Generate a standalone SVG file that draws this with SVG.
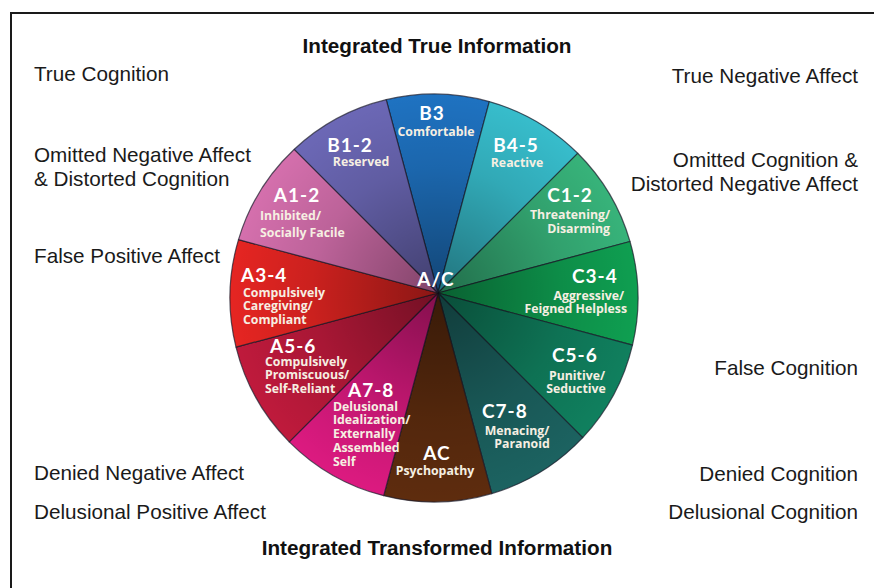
<svg xmlns="http://www.w3.org/2000/svg" width="874" height="588" viewBox="0 0 874 588">
<style>
.lbl{font-family:"Liberation Sans",Arial,sans-serif;font-size:20.7px;fill:#1a1a1a}
.hd{font-family:"Liberation Sans",Arial,sans-serif;font-size:20.7px;font-weight:bold;fill:#111}
.r{text-anchor:end}
.m{text-anchor:middle}
.sl{stroke:#1a1a2a;stroke-opacity:0.7;stroke-width:1.2;stroke-linejoin:round}
.code{font-family:Lato,"Open Sans",sans-serif;font-weight:bold;font-size:19px;fill:#fff;letter-spacing:1px}
.sub{font-family:"Open Sans",Lato,sans-serif;font-weight:bold;font-size:12.3px;fill:#f6efe2}
</style>
<defs>
<radialGradient id="shade" gradientUnits="userSpaceOnUse" cx="438" cy="293" r="210">
<stop offset="0" stop-color="#000" stop-opacity="0.4"/>
<stop offset="0.6" stop-color="#000" stop-opacity="0.12"/>
<stop offset="1" stop-color="#000" stop-opacity="0"/>
</radialGradient>
</defs>
<rect width="874" height="588" fill="#fff"/>
<path d="M11 588 V13 H874" fill="none" stroke="#1a1a1a" stroke-width="2"/>

<text class="hd m" x="437" y="53">Integrated True Information</text>
<text class="lbl" x="34" y="81">True Cognition</text>
<text class="lbl" x="34" y="162">Omitted Negative Affect</text>
<text class="lbl" x="34" y="186">&amp; Distorted Cognition</text>
<text class="lbl" x="34" y="263">False Positive Affect</text>
<text class="lbl r" x="858" y="83">True Negative Affect</text>
<text class="lbl r" x="858" y="167">Omitted Cognition &amp;</text>
<text class="lbl r" x="858" y="191">Distorted Negative Affect</text>
<text class="lbl r" x="858" y="375">False Cognition</text>
<text class="lbl" x="34" y="480">Denied Negative Affect</text>
<text class="lbl" x="34" y="519">Delusional Positive Affect</text>
<text class="lbl r" x="858" y="481">Denied Cognition</text>
<text class="lbl r" x="858" y="519">Delusional Cognition</text>
<text class="hd m" x="437" y="555">Integrated Transformed Information</text>

<g id="wheel">
<g id="B3"><path class="sl" fill="#1f74c4" d="M438 293 L386.2 99.7 A204 204 0 0 1 489.3 101.6 Z"/></g>
<g id="B4-5"><path class="sl" fill="#38c0cf" d="M438 293 L489.3 101.6 A204 204 0 0 1 577.7 153.3 Z"/></g>
<g id="C1-2"><path class="sl" fill="#38b67c" d="M438 293 L577.7 153.3 A204 204 0 0 1 630 241.5 Z"/></g>
<g id="C3-4"><path class="sl" fill="#0fa152" d="M438 293 L630 241.5 A204 204 0 0 1 632.5 345.1 Z"/></g>
<g id="C5-6"><path class="sl" fill="#10815f" d="M438 293 L632.5 345.1 A204 204 0 0 1 582.7 437.7 Z"/></g>
<g id="C7-8"><path class="sl" fill="#1c6361" d="M438 293 L582.7 437.7 A204 204 0 0 1 491.8 493.6 Z"/></g>
<g id="AC"><path class="sl" fill="#5e2c0e" d="M438 293 L491.8 493.6 A204 204 0 0 1 383.7 495.7 Z"/></g>
<g id="A7-8"><path class="sl" fill="#dc1a80" d="M438 293 L383.7 495.7 A204 204 0 0 1 289.2 441.8 Z"/></g>
<g id="A5-6"><path class="sl" fill="#bf1a3c" d="M438 293 L289.2 441.8 A204 204 0 0 1 236 347.1 Z"/></g>
<g id="A3-4"><path class="sl" fill="#e62522" d="M438 293 L236 347.1 A204 204 0 0 1 238.5 239.6 Z"/></g>
<g id="A1-2"><path class="sl" fill="#d670ae" d="M438 293 L238.5 239.6 A204 204 0 0 1 294.3 149.3 Z"/></g>
<g id="B1-2"><path class="sl" fill="#6d69b8" d="M438 293 L294.3 149.3 A204 204 0 0 1 386.2 99.7 Z"/></g>
<circle cx="434" cy="298" r="204" fill="url(#shade)"/>
</g>

<g id="labels">
<text class="code m" x="432" y="120">B3</text>
<text class="sub m" x="436" y="136">Comfortable</text>
<text class="code m" x="350" y="152">B1-2</text>
<text class="sub m" x="361" y="166">Reserved</text>
<text class="code m" x="516" y="152">B4-5</text>
<text class="sub m" x="517" y="167" fill="#d6f2f2">Reactive</text>
<text class="code m" x="297" y="202">A1-2</text>
<text class="sub" x="260" y="220">Inhibited/</text>
<text class="sub" x="260" y="237">Socially Facile</text>
<text class="code m" x="570" y="202">C1-2</text>
<text class="sub r" x="610" y="219">Threatening/</text>
<text class="sub r" x="610" y="233">Disarming</text>
<text class="code" x="241" y="282">A3-4</text>
<text class="sub" x="243" y="297">Compulsively</text>
<text class="sub" x="243" y="310">Caregiving/</text>
<text class="sub" x="243" y="324">Compliant</text>
<text class="code" x="572" y="283">C3-4</text>
<text class="sub r" x="624" y="300">Aggressive/</text>
<text class="sub r" x="627" y="313">Feigned Helpless</text>
<text class="code m" x="436" y="286" font-size="20">A/C</text>
<text class="code" x="270" y="353">A5-6</text>
<text class="sub" x="265" y="366">Compulsively</text>
<text class="sub" x="265" y="379">Promiscuous/</text>
<text class="sub" x="265" y="393">Self-Reliant</text>
<text class="code" x="552" y="362">C5-6</text>
<text class="sub m" x="577" y="380">Punitive/</text>
<text class="sub m" x="576" y="393">Seductive</text>
<text class="code" x="348" y="397">A7-8</text>
<text class="sub" x="333" y="411">Delusional</text>
<text class="sub" x="333" y="424">Idealization/</text>
<text class="sub" x="333" y="438">Externally</text>
<text class="sub" x="333" y="452">Assembled</text>
<text class="sub" x="333" y="466">Self</text>
<text class="code" x="482" y="418">C7-8</text>
<text class="sub m" x="517" y="435">Menacing/</text>
<text class="sub m" x="522" y="448">Paranoid</text>
<text class="code m" x="437" y="460" font-size="21">AC</text>
<text class="sub m" x="435" y="475">Psychopathy</text>
</g>
</svg>
